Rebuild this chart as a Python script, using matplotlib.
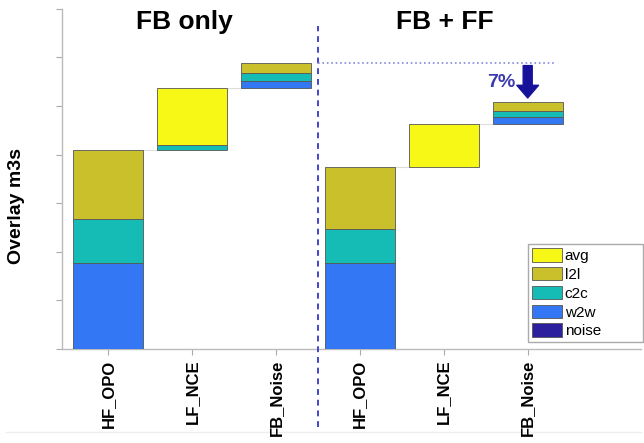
import numpy as np
import matplotlib
matplotlib.use('Agg')
import matplotlib.pyplot as plt
from matplotlib.patches import Patch, FancyArrowPatch

plt.rcParams['font.family'] = ['Liberation Sans', 'DejaVu Sans']

labels = ['HF_OPO', 'LF_NCE', 'FB_Noise', 'HF_OPO', 'LF_NCE', 'FB_Noise']
groups = ['FB only', 'FB + FF']
# contributions per step (stacked bottom to top: w2w, c2c, l2l, avg)
w2w = [1.77, 0.00, 0.14, 1.77, 0.00, 0.14]
c2c = [0.90, 0.10, 0.17, 0.70, 0.00, 0.12]
l2l = [1.42, 0.00, 0.21, 1.27, 0.00, 0.19]
avg = [0.00, 1.18, 0.00, 0.00, 0.89, 0.00]
noise = [0.00, 0.00, 0.00, 0.00, 0.00, 0.00]
reduction = '7%'

colors = {'avg': '#f8f816', 'l2l': '#c9c02c', 'c2c': '#14bcb5',
          'w2w': '#3377f5', 'noise': '#2c209e'}

fig = plt.figure(figsize=(6.44, 4.43), dpi=100)
ax = fig.add_axes([0.0963, 0.212, 0.899, 0.768])

x = np.arange(len(labels))
width = 0.83
series = [('w2w', w2w), ('c2c', c2c), ('noise', noise), ('l2l', l2l), ('avg', avg)]

tops = []
for g in range(2):
    base = 0.0
    for i in range(3):
        k = g * 3 + i
        b = base
        for name, vals in series:
            if vals[k] > 0:
                ax.bar(x[k], vals[k], width, bottom=b, color=colors[name],
                       edgecolor='#555555', linewidth=0.6, zorder=3)
                b += vals[k]
        tops.append((base, b))
        base = b

# faint connectors between waterfall steps
for k in [0, 1, 3, 4]:
    ax.plot([x[k] + width / 2, x[k + 1] - width / 2], [tops[k][1]] * 2,
            color='#dddddd', lw=0.8, zorder=2)

ax.set_xlim(-0.55, 6.35)
ax.set_ylim(0, 7)
ax.set_yticks(np.arange(0, 8))
ax.set_yticklabels([])
ax.set_xticks(x)
ax.set_xticklabels(labels, rotation=90, fontsize=12, fontweight='bold')
ax.tick_params(axis='both', color='#aaaaaa', length=4, width=0.8)
for s in ['top', 'right']:
    ax.spines[s].set_visible(False)
for s in ['left', 'bottom']:
    ax.spines[s].set_color('#bbbbbb')
    ax.spines[s].set_linewidth(1.0)

ax.set_ylabel('Overlay m3s', fontsize=14, fontweight='bold')
ax.yaxis.set_label_coords(-0.064, 0.42)

ax.text(0.91, 6.73, groups[0], fontsize=19, fontweight='bold', ha='center', va='center')
ax.text(4.01, 6.73, groups[1], fontsize=19, fontweight='bold', ha='center', va='center')

# separator and reference line
ax.plot([2.5, 2.5], [-1.6, 6.65], color='#4444cc', ls=(0, (3, 2.5)), lw=1.4,
        clip_on=False, zorder=4)
ax.plot([2.5, 5.31], [tops[2][1]] * 2, color='#8888dd', ls=':', lw=1.2, zorder=4)

arrow = FancyArrowPatch((5.0, tops[2][1]), (5.0, tops[5][1] + 0.03),
                        arrowstyle='simple,head_length=0.7,head_width=1.2,tail_width=0.5',
                        mutation_scale=13, color='#16129a', zorder=5)
ax.add_patch(arrow)
ax.text(4.69, 5.49, reduction, color='#3c3cb0', fontsize=14, fontweight='bold',
        ha='center', va='center')

handles = [Patch(facecolor=colors[n], edgecolor='#555555', linewidth=0.6, label=n)
           for n in ['avg', 'l2l', 'c2c', 'w2w', 'noise']]
leg = ax.legend(handles=handles, loc='lower left', mode='expand',
                bbox_to_anchor=(0.805, 0.02, 0.199, 0.29),
                borderaxespad=0, fontsize=11, handlelength=2.0, handleheight=1.0,
                labelspacing=0.25, handletextpad=0.15, borderpad=0.25,
                fancybox=False, framealpha=1)
leg.get_frame().set_edgecolor('#aaaaaa')

fig.add_artist(plt.Line2D([0.01, 0.995], [0.025, 0.025], color='#eeeeee', lw=1,
                          zorder=-1))

fig.savefig('out.png', dpi=100)
